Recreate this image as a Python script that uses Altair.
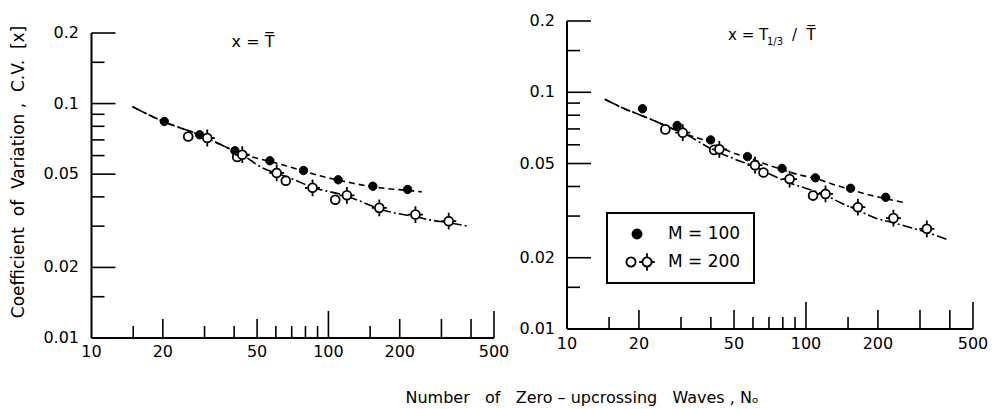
import altair as alt
import pandas as pd

# ---------------- data ----------------
# left panel: x = T-bar
L100_N = [20.3, 28.6, 40.3, 56.6, 78.5, 110, 154, 216]
L100_CV = [0.0839, 0.0736, 0.0629, 0.0570, 0.0518, 0.0473, 0.0444, 0.0430]
L200_N = [25.6, 30.8, 41.2, 43.3, 60.5, 66.1, 85.7, 106.9, 119.7, 164, 233, 322]
L200_CV = [0.0724, 0.0713, 0.0592, 0.0605, 0.0506, 0.0469, 0.0437, 0.0389, 0.0406, 0.0359, 0.0336, 0.0315]
L200_BAR = [False, True, False, True, True, False, True, False, True, True, True, True]
L100_CURVE_N = [14.9, 20.1, 28.4, 34.9, 40.3, 48.2, 56.6, 66.7, 77.1, 92.2, 108.4, 127.4, 149.8, 176.2, 210.6, 247.7]
L100_CURVE_CV = [0.0970, 0.0838, 0.0737, 0.0670, 0.0628, 0.0590, 0.0566, 0.0542, 0.0518, 0.0492, 0.0473, 0.0457, 0.0443, 0.0434, 0.0427, 0.0420]
L200_CURVE_N = [14.9, 20.1, 28.4, 34.9, 40.3, 43.3, 53.1, 59.5, 71.1, 85.0, 117.5, 138.2, 162.4, 194.2, 228, 268.5, 315.8, 389.6]
L200_CURVE_CV = [0.0970, 0.0838, 0.0737, 0.0670, 0.0625, 0.0603, 0.0530, 0.0507, 0.0475, 0.0440, 0.0405, 0.0381, 0.0357, 0.0340, 0.0331, 0.0319, 0.0311, 0.0300]

# right panel: x = T1/3 / T-bar
R100_N = [20.7, 28.9, 39.9, 56.9, 79.4, 109.5, 153.7, 215.6]
R100_CV = [0.0852, 0.0724, 0.0629, 0.0535, 0.0477, 0.0435, 0.0393, 0.0360]
R200_N = [25.8, 30.5, 41.3, 43.4, 61.2, 66.4, 85.4, 107.1, 120.7, 164.9, 232.3, 320.5]
R200_CV = [0.0697, 0.0675, 0.0571, 0.0574, 0.0492, 0.0458, 0.0430, 0.0366, 0.0372, 0.0327, 0.0294, 0.0265]
R200_BAR = [False, True, False, True, True, False, True, False, True, True, True, True]
R100_CURVE_N = [14.4, 17.2, 20.2, 23.7, 27.0, 30.7, 36.0, 39.9, 48.1, 56.5, 66.3, 79.1, 94.4, 109.1, 130.1, 152.8, 179.5, 214.1, 257]
R100_CURVE_CV = [0.0934, 0.0856, 0.0802, 0.0751, 0.0708, 0.0671, 0.0637, 0.0614, 0.0561, 0.0531, 0.0501, 0.0472, 0.0447, 0.0433, 0.0408, 0.0389, 0.0371, 0.0356, 0.0342]
R200_CURVE_N = [14.4, 17.2, 20.2, 23.7, 27.0, 30.7, 41.6, 51.3, 60.2, 71.9, 83.0, 120.1, 141, 163.9, 197.6, 231.9, 281.2, 316.8, 387.9]
R200_CURVE_CV = [0.0934, 0.0856, 0.0802, 0.0751, 0.0708, 0.0671, 0.0566, 0.0518, 0.0488, 0.0447, 0.0419, 0.0368, 0.0340, 0.0318, 0.0293, 0.0281, 0.0266, 0.0257, 0.0239]

# axis ticks and labels
X_TICKS = [15, 20, 30, 40, 50, 60, 70, 80, 90, 100, 150, 200, 300, 400, 500]
X_TICK_KIND = ["s", "m", "s", "s", "m", "s", "s", "s", "s", "l", "s", "m", "m", "m", "l"]
X_LABELS = [10, 20, 50, 100, 200, 500]
Y_TICKS = [0.2, 0.15, 0.1, 0.09, 0.08, 0.07, 0.06, 0.05, 0.04, 0.03, 0.02, 0.015]
Y_TICK_KIND = ["l", "s", "l", "s", "s", "s", "s", "l", "s", "s", "l", "s"]
Y_LABELS = [0.2, 0.1, 0.05, 0.02, 0.01]
Y_LABEL_TEXT = ["0.2", "0.1", "0.05", "0.02", "0.01"]

FONT = "DejaVu Sans"
NB = "\u00a0"
CIRCLE = "M-1,0A1,1 0 1,1 1,0A1,1 0 1,1 -1,0Z"
CROSS = CIRCLE + "M0,-1L0,-1.9M0,1L0,1.9M-1,0L-1.7,0M1,0L1.7,0"
TICK_LEN = {"s": 12, "m": 19, "l": 27}
YTICK_LEN = {"s": 13, "l": 24}

dummy = pd.DataFrame({"a": [0]})


def panel(n100, cv100, n200, cv200, bar200, c1n, c1cv, c2n, c2cv, xr, yr, xlab_y, ylab_x):
    xs = alt.Scale(type="log", domain=[10, 500], range=xr)
    ys = alt.Scale(type="log", domain=[0.01, 0.2], range=yr)
    X = alt.X("n:Q", scale=xs, axis=None)
    Y = alt.Y("cv:Q", scale=ys, axis=None)
    layers = []
    # curves
    d1 = pd.DataFrame({"n": c1n, "cv": c1cv})
    d2 = pd.DataFrame({"n": c2n, "cv": c2cv})
    layers.append(alt.Chart(d1).mark_line(stroke="black", strokeWidth=1.6, strokeDash=[6, 4],
                                          interpolate="monotone").encode(x=X, y=Y, order="n:Q"))
    layers.append(alt.Chart(d2).mark_line(stroke="black", strokeWidth=1.6, strokeDash=[10, 3, 2, 3],
                                          interpolate="monotone").encode(x=X, y=Y, order="n:Q"))
    # points
    p1 = pd.DataFrame({"n": n100, "cv": cv100})
    p2 = pd.DataFrame({"n": n200, "cv": cv200, "bar": bar200})
    layers.append(alt.Chart(p1).mark_point(shape=CIRCLE, filled=True, fill="black", stroke="black",
                                           strokeWidth=1, size=70, opacity=1).encode(x=X, y=Y))
    layers.append(alt.Chart(p2).transform_filter("!datum.bar").mark_point(
        shape=CIRCLE, filled=True, fill="white", stroke="black", strokeWidth=1.8, size=78, opacity=1
    ).encode(x=X, y=Y))
    layers.append(alt.Chart(p2).transform_filter("datum.bar").mark_point(
        shape=CROSS, filled=True, fill="white", stroke="black", strokeWidth=1.8, size=78, opacity=1
    ).encode(x=X, y=Y))
    # axis lines
    layers.append(alt.Chart(dummy).mark_rule(stroke="black", strokeWidth=2).encode(
        x=alt.value(xr[0]), y=alt.value(yr[0]), y2=alt.value(yr[1])))
    layers.append(alt.Chart(dummy).mark_rule(stroke="black", strokeWidth=2).encode(
        x=alt.value(xr[0]), x2=alt.value(xr[1]), y=alt.value(yr[0])))
    # inward ticks
    xt = pd.DataFrame({"v": X_TICKS, "k": X_TICK_KIND})
    for k, L in TICK_LEN.items():
        layers.append(alt.Chart(xt).transform_filter(alt.datum.k == k).mark_rule(
            stroke="black", strokeWidth=1.6).encode(
            x=alt.X("v:Q", scale=xs, axis=None), y=alt.value(yr[0]), y2=alt.value(yr[0] - L)))
    yt = pd.DataFrame({"v": Y_TICKS, "k": Y_TICK_KIND})
    for k, L in YTICK_LEN.items():
        layers.append(alt.Chart(yt).transform_filter(alt.datum.k == k).mark_rule(
            stroke="black", strokeWidth=1.6).encode(
            y=alt.Y("v:Q", scale=ys, axis=None), x=alt.value(xr[0]), x2=alt.value(xr[0] + L)))
    # tick labels
    xl = pd.DataFrame({"v": X_LABELS, "t": [str(v) for v in X_LABELS]})
    layers.append(alt.Chart(xl).mark_text(font=FONT, fontSize=16, align="center", baseline="middle",
                                          color="black").encode(
        x=alt.X("v:Q", scale=xs, axis=None), y=alt.value(xlab_y), text="t:N"))
    yl = pd.DataFrame({"v": Y_LABELS, "t": Y_LABEL_TEXT})
    layers.append(alt.Chart(yl).mark_text(font=FONT, fontSize=16, align="right", baseline="middle",
                                          color="black").encode(
        y=alt.Y("v:Q", scale=ys, axis=None), x=alt.value(ylab_x), text="t:N"))
    return alt.layer(*layers)


left = panel(L100_N, L100_CV, L200_N, L200_CV, L200_BAR, L100_CURVE_N, L100_CURVE_CV,
             L200_CURVE_N, L200_CURVE_CV, [91.5, 494], [338, 33], 352, 79)
right = panel(R100_N, R100_CV, R200_N, R200_CV, R200_BAR, R100_CURVE_N, R100_CURVE_CV,
              R200_CURVE_N, R200_CURVE_CV, [567, 973], [329, 21], 344, 555)


def txt(s, x, y, size=15, align="left", baseline="alphabetic", angle=0):
    return alt.Chart(dummy).mark_text(text=s, font=FONT, fontSize=size, align=align,
                                      baseline=baseline, angle=angle, color="black").encode(
        x=alt.value(x), y=alt.value(y))


ytitle = ("Coefficient" + NB * 2 + "of" + NB * 2 + "Variation" + NB + "," + NB * 2 + "C.V." + NB * 2 + "[x]")
xtitle = ("Number" + NB * 3 + "of" + NB * 3 + "Zero" + NB + "\u2013" + NB + "upcrossing" + NB * 3
          + "Waves" + NB + "," + NB + "N\u2092")

deco = [
    # panel titles
    txt("x = T\u0305", 253, 47, 16, align="center"),
    txt("x = T", 728, 40, 15),
    txt("1/3", 767, 45, 10),
    txt("/" + NB * 2 + "T\u0305", 792, 40, 15),
    # axis titles
    txt(ytitle, 19, 172, 17, align="center", baseline="middle", angle=270),
    txt(xtitle, 582, 398, 16, align="center", baseline="middle"),
    # legend box
    alt.Chart(dummy).mark_rect(fill="white", stroke="black", strokeWidth=2).encode(
        x=alt.value(607), x2=alt.value(754), y=alt.value(213), y2=alt.value(283)),
    alt.Chart(dummy).mark_point(shape=CIRCLE, filled=True, fill="black", stroke="black", size=80, opacity=1).encode(
        x=alt.value(637), y=alt.value(234)),
    alt.Chart(dummy).mark_point(shape=CIRCLE, filled=True, fill="white", stroke="black", strokeWidth=1.8,
                                size=84, opacity=1).encode(x=alt.value(631), y=alt.value(262)),
    alt.Chart(dummy).mark_point(shape=CROSS, filled=True, fill="white", stroke="black", strokeWidth=1.8,
                                size=84, opacity=1).encode(x=alt.value(647), y=alt.value(262)),
    txt("M = 100", 668, 234, 17, baseline="middle"),
    txt("M = 200", 668, 262, 17, baseline="middle"),
]

chart = alt.layer(left, right, *deco).resolve_scale(
    x="independent", y="independent"
).properties(
    width=1001, height=409, padding=0, autosize="none", background="white"
).configure_view(stroke=None)

chart.save("out.html", embed_options={"renderer": "svg", "actions": False})
